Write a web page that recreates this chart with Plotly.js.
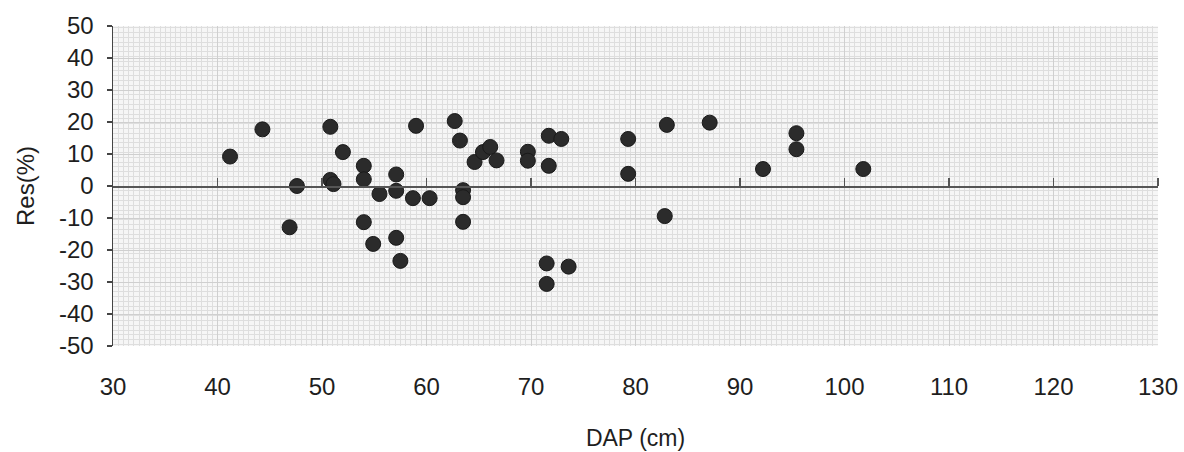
<!DOCTYPE html>
<html>
<head>
<meta charset="utf-8">
<script src="https://cdn.plot.ly/plotly-3.0.1.min.js"></script>
<style>html,body{margin:0;padding:0;background:#fff;}#chart{width:1184px;height:452px;}</style>
</head>
<body>
<div id="chart"></div>
<script>
// DAP (cm) values
const dap = [41.2, 44.3, 46.9, 47.6, 50.8, 50.8, 51.1, 52.0, 54.0, 54.0, 54.0, 54.9, 55.5,
  57.1, 57.1, 57.1, 57.5, 58.7, 59.0, 60.3, 62.7, 63.2, 63.5, 63.5, 63.5, 64.6, 65.4, 66.1,
  66.7, 69.7, 69.7, 71.7, 71.7, 71.5, 71.5, 72.9, 73.6, 79.3, 79.3, 82.8, 83.0, 87.1, 92.2,
  95.4, 95.4, 101.8];
// Residuals (%)
const res = [9.2, 17.7, -12.9, 0.0, 18.5, 1.9, 0.6, 10.6, 6.3, 2.1, -11.3, -18.1, -2.5,
  3.6, -1.5, -16.2, -23.4, -3.8, 18.8, -3.8, 20.3, 14.2, -1.3, -3.5, -11.2, 7.5, 10.6, 12.2,
  8.0, 10.7, 7.9, 15.7, 6.3, -24.2, -30.6, 14.7, -25.2, 14.7, 3.8, -9.4, 19.1, 19.8, 5.3,
  16.5, 11.5, 5.3];
const xTicks = [30, 40, 50, 60, 70, 80, 90, 100, 110, 120, 130];
const yTicks = [50, 40, 30, 20, 10, 0, -10, -20, -30, -40, -50];

const font = {family: 'Liberation Sans, Arial, sans-serif', size: 24, color: '#1e1e1e'};
const xRange = [30, 130];

const traces = [
  {
    x: dap, y: res, type: 'scatter', mode: 'markers',
    marker: {size: 15, color: '#2b2b2b', line: {color: '#1a1a1a', width: 1}},
    hoverinfo: 'x+y'
  },
  {
    x: dap, y: res, type: 'scatter', mode: 'markers', xaxis: 'x2', yaxis: 'y',
    marker: {size: 1, opacity: 0}, hoverinfo: 'skip', showlegend: false
  }
];

const layout = {
  width: 1184, height: 452,
  margin: {l: 113, r: 26, t: 26, b: 106},
  paper_bgcolor: '#ffffff',
  plot_bgcolor: '#f6f6f6',
  showlegend: false,
  font: font,
  xaxis: {
    range: xRange, tickvals: xTicks, ticktext: xTicks.map(String),
    showline: false, ticks: '', zeroline: false,
    showgrid: true, gridcolor: '#cfcfcf', gridwidth: 1,
    minor: {dtick: 0.5, showgrid: true, gridcolor: '#dedede', gridwidth: 1},
    tickfont: font, ticklabelstandoff: 24, ticklabeloverflow: 'allow',
    title: {text: 'DAP (cm)', font: {family: font.family, size: 23, color: '#1e1e1e'}, standoff: 30}
  },
  xaxis2: {
    overlaying: 'x', anchor: 'free', position: 0.5, side: 'top',
    range: xRange, tickvals: xTicks.slice(1), showticklabels: false,
    ticks: 'outside', ticklen: 8, tickwidth: 1.5, tickcolor: '#555',
    showline: true, linecolor: '#555', linewidth: 1.5,
    showgrid: false, zeroline: false
  },
  yaxis: {
    range: [-50, 50], tickvals: yTicks, ticktext: yTicks.map(String),
    showline: true, linecolor: '#444', linewidth: 1.5,
    ticks: 'outside', ticklen: 5, tickcolor: '#444', tickwidth: 1.5,
    zeroline: false,
    showgrid: true, gridcolor: '#cfcfcf', gridwidth: 1,
    minor: {dtick: 1.5, showgrid: true, gridcolor: '#dedede', gridwidth: 1},
    tickfont: font, ticklabelstandoff: 8,
    title: {text: 'Res(%)', font: {family: font.family, size: 24, color: '#1e1e1e'}, standoff: 17}
  }
};

Plotly.newPlot('chart', traces, layout, {displayModeBar: false, staticPlot: true});
</script>
</body>
</html>
